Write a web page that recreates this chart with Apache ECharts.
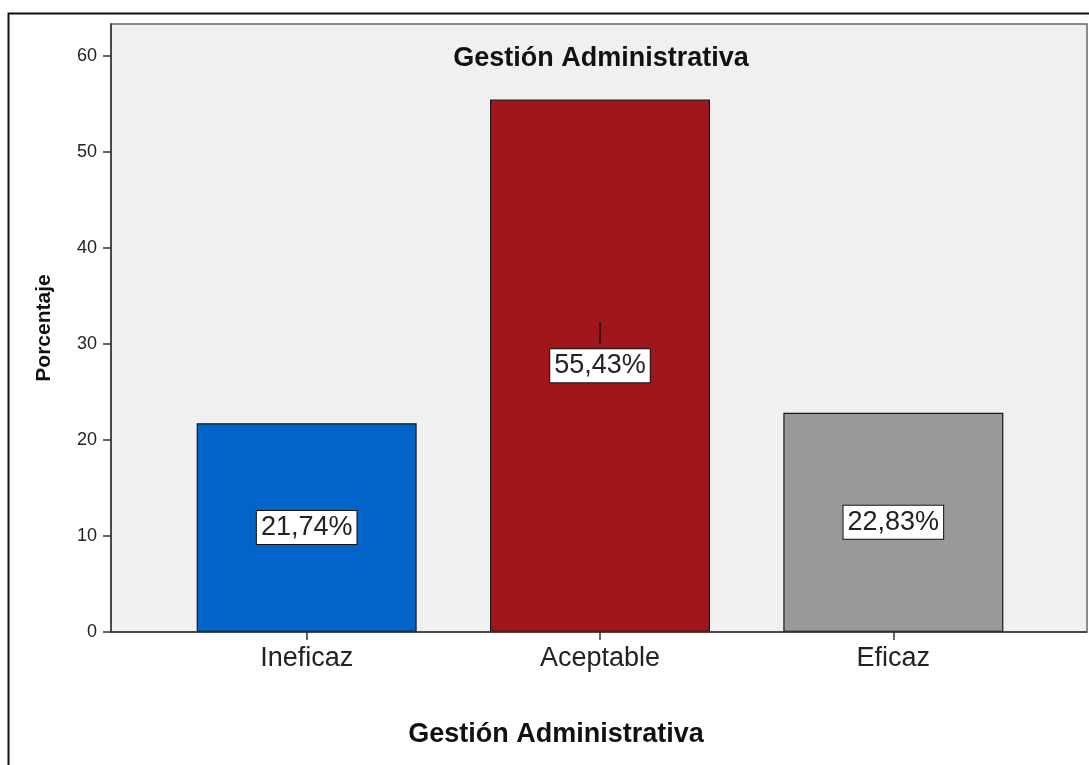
<!DOCTYPE html>
<html>
<head>
<meta charset="utf-8">
<script src="https://cdn.jsdelivr.net/npm/echarts@6/dist/echarts.min.js"></script>
<style>
html,body{margin:0;padding:0;background:#fff;}
#chart{width:1089px;height:765px;}
</style>
</head>
<body>
<div id="chart"></div>
<script>
const categories = ['Ineficaz', 'Aceptable', 'Eficaz'];
const percentages = [21.74, 55.43, 22.83];
const barColors = ['#0064c8', '#a0161a', '#999999'];
const yTicks = [0, 10, 20, 30, 40, 50, 60];
const yMax = 63.3;
const leaderLine = [30.0, 32.3];

const chart = echarts.init(document.getElementById('chart'));
const font = '"Liberation Sans", Arial, sans-serif';

chart.setOption({
  animation: false,
  backgroundColor: '#ffffff',
  graphic: [
    { type: 'rect', z: -10, shape: { x: 111, y: 24, width: 976, height: 608 },
      style: { fill: '#f0f0f0', stroke: '#666666', lineWidth: 1.5 } },
    { type: 'polyline', z: 10, shape: { points: [[8.5, 800], [8.5, 13.5], [1100, 13.5]] },
      style: { stroke: '#111111', lineWidth: 2, fill: null } },
    { type: 'line', z: 10, shape: { x1: 111, y1: 632, x2: 1087, y2: 632 },
      style: { stroke: '#333333', lineWidth: 1.5 } }
  ],
  title: {
    text: 'Gestión Administrativa',
    left: 596, top: 40, textAlign: 'center',
    textStyle: { fontFamily: font, fontWeight: 'bold', fontSize: 27, color: '#111' }
  },
  grid: { left: 160, right: 49, top: 24, bottom: 133, containLabel: false },
  xAxis: {
    type: 'category',
    data: categories,
    name: 'Gestión Administrativa',
    nameLocation: 'middle',
    nameGap: 89,
    nameTextStyle: { fontFamily: font, fontWeight: 'bold', fontSize: 27, color: '#111', padding: [0, 88, 0, 0] },
    axisLine: { show: false },
    axisTick: { show: true, alignWithLabel: true, length: 8, lineStyle: { color: '#333', width: 1.5 } },
    axisLabel: { fontFamily: font, fontSize: 27, color: '#222', margin: 13 },
    splitLine: { show: false }
  },
  yAxis: {
    type: 'value',
    min: 0, max: yMax, interval: 10,
    offset: 49,
    name: 'Porcentaje',
    nameLocation: 'middle',
    nameGap: 56,
    nameTextStyle: { fontFamily: font, fontWeight: 'bold', fontSize: 21, color: '#111' },
    axisLine: { show: true, lineStyle: { color: '#333', width: 1.5 } },
    axisTick: { show: true, length: 8, customValues: yTicks, lineStyle: { color: '#333', width: 1.5 } },
    axisLabel: {
      fontFamily: font, fontSize: 18, color: '#222', margin: 14,
      customValues: yTicks
    },
    splitLine: { show: false }
  },
  series: [{
    type: 'bar',
    barWidth: 220,
    data: percentages.map((v, i) => ({ value: v, itemStyle: { color: barColors[i] } })),
    itemStyle: { borderColor: '#1a1a1a', borderWidth: 1.2 },
    label: {
      show: true,
      position: 'inside',
      fontFamily: font, fontSize: 27, color: '#222',
      backgroundColor: '#ffffff', borderColor: '#111', borderWidth: 1,
      padding: [4, 4, 2, 4],
      formatter: p => p.value.toFixed(2).replace('.', ',') + '%'
    },
    markLine: {
      silent: true, symbol: 'none', label: { show: false },
      lineStyle: { color: '#111', width: 1.5, type: 'solid' },
      data: [[{ coord: [categories[1], leaderLine[0]] }, { coord: [categories[1], leaderLine[1]] }]]
    }
  }]
});
</script>
</body>
</html>
